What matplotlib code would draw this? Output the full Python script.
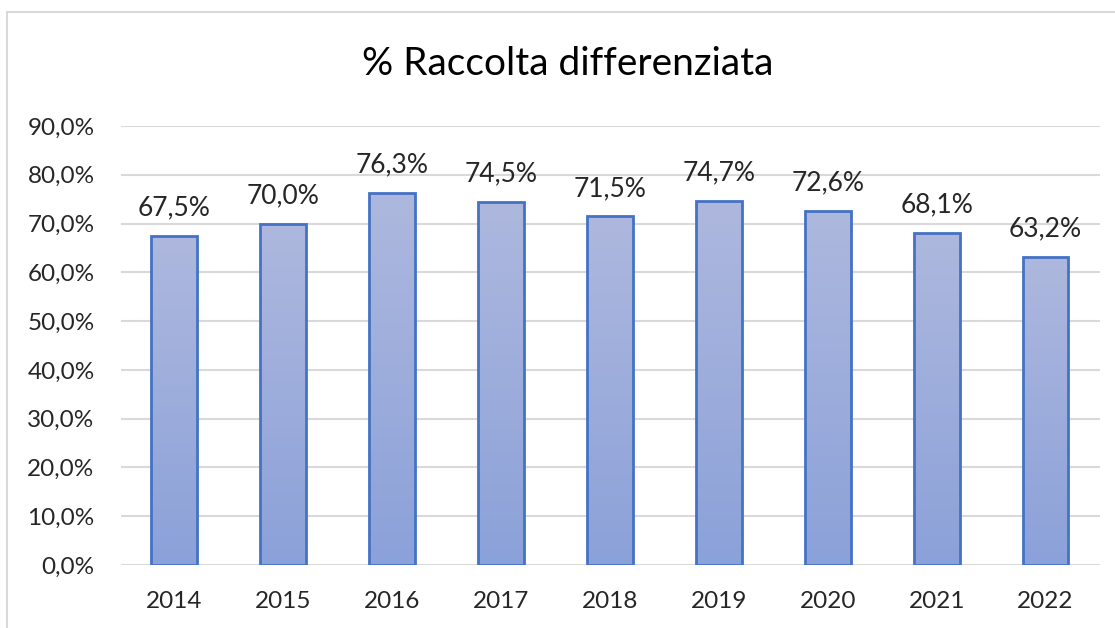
import matplotlib

matplotlib.use("Agg")
import matplotlib.pyplot as plt
import numpy as np
from matplotlib.colors import LinearSegmentedColormap
from matplotlib.patches import Rectangle

years = ["2014", "2015", "2016", "2017", "2018", "2019", "2020", "2021", "2022"]
values = [67.5, 70.0, 76.3, 74.5, 71.5, 74.7, 72.6, 68.1, 63.2]
yticks = [0, 10, 20, 30, 40, 50, 60, 70, 80, 90]

plt.rcParams["font.family"] = ["Lato", "DejaVu Sans"]

W, H = 1115, 628
fig = plt.figure(figsize=(W / 100, H / 100), dpi=100)
ax = fig.add_axes([121 / W, 1 - 565 / H, (1100 - 121) / W, (565 - 126) / H])

# chart frame (runs off the right and bottom edges like in the source)
fig.patches.append(Rectangle((7 / W, -0.05), 1.2, 1 - 12 / H + 0.05,
                             transform=fig.transFigure, fill=False,
                             edgecolor="#d9d9d9", linewidth=1.5))

x = np.arange(len(years))
bars = ax.bar(x, values, width=0.42, facecolor="none", edgecolor="#4472c4",
              linewidth=2.0, zorder=3)

cmap = LinearSegmentedColormap.from_list("grad", ["#8ba1d9", "#aeb8de"])
grad = np.linspace(0, 1, 256).reshape(-1, 1)
for b in bars:
    x0, w, h = b.get_x(), b.get_width(), b.get_height()
    im = ax.imshow(grad, cmap=cmap, origin="lower", aspect="auto",
                   extent=(x0, x0 + w, 0, h), zorder=2)
    im.set_clip_path(b)

for xi, v in zip(x, values):
    ax.annotate(f"{v:.1f}%".replace(".", ","), (xi, v), xytext=(0, 11),
                textcoords="offset points", ha="center", va="bottom",
                fontsize=19, color="#262626")

ax.set_xlim(-0.49, 8.5)
ax.set_ylim(0, 90)
ax.set_xticks(x)
ax.set_xticklabels(years)
ax.set_yticks(yticks)
ax.set_yticklabels([f"{t:.1f}%".replace(".", ",") for t in yticks])
ax.tick_params(axis="both", length=0, labelsize=17.5, labelcolor="#262626")
ax.tick_params(axis="x", pad=19)
ax.tick_params(axis="y", pad=19)
ax.grid(axis="y", color="#d9d9d9", linewidth=1.5, zorder=0)
ax.set_axisbelow(True)
for s in ax.spines.values():
    s.set_visible(False)

fig.text(568 / W, 1 - 64 / H, "% Raccolta differenziata", ha="center",
         va="center", fontsize=28, color="#000000")

fig.savefig("out.png", dpi=100)
